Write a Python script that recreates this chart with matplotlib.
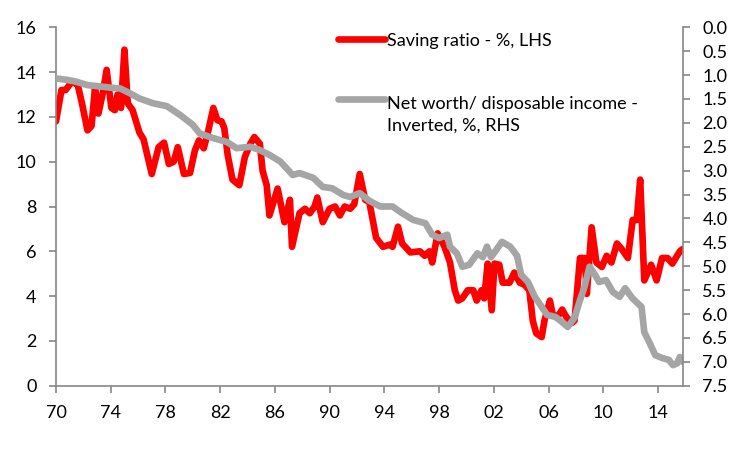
import matplotlib
matplotlib.use("Agg")
import matplotlib.pyplot as plt
import numpy as np
from matplotlib.legend_handler import HandlerLine2D

# Household saving ratio (%, left axis)
saving_years = [1970.0, 1970.4, 1970.7, 1971.2, 1971.6, 1971.9, 1972.3, 1972.6, 1972.85, 1973.1,
                1973.4, 1973.7, 1974.05, 1974.3, 1974.5, 1974.75, 1975.0, 1975.25, 1975.6, 1976.1,
                1976.4, 1977.0, 1977.5, 1977.9, 1978.25, 1978.6, 1978.9, 1979.35, 1979.8, 1980.15,
                1980.45, 1980.8, 1981.1, 1981.5, 1981.8, 1982.1, 1982.3, 1982.55, 1982.9, 1983.4,
                1983.8, 1984.2, 1984.5, 1984.9, 1985.1, 1985.4, 1985.6, 1986.2, 1986.7, 1987.1,
                1987.25, 1987.8, 1988.2, 1988.55, 1988.9, 1989.1, 1989.5, 1990.0, 1990.4, 1990.75,
                1991.1, 1991.5, 1991.8, 1992.2, 1992.6, 1992.9, 1993.4, 1993.9, 1994.4, 1994.6,
                1995.0, 1995.3, 1995.9, 1996.6, 1996.95, 1997.3, 1997.5, 1997.9, 1998.4, 1998.8,
                1999.15, 1999.4, 1999.7, 2000.1, 2000.5, 2000.75, 2001.1, 2001.3, 2001.55, 2001.85,
                2002.05, 2002.4, 2002.65, 2003.15, 2003.5, 2003.9, 2004.25, 2004.6, 2004.85, 2005.1,
                2005.5, 2005.7, 2006.1, 2006.3, 2006.65, 2007.0, 2007.3, 2007.7, 2007.9, 2008.3,
                2008.65, 2008.8, 2009.15, 2009.5, 2009.9, 2010.25, 2010.6, 2011.0, 2011.35, 2011.8,
                2012.15, 2012.45, 2012.7, 2013.0, 2013.5, 2013.9, 2014.3, 2014.7, 2015.05, 2015.6,
                2015.8]
saving_ratio = [11.8, 13.2, 13.2, 13.6, 13.4, 12.6, 11.4, 11.6, 13.3, 12.15,
                13.0, 14.1, 12.4, 12.3, 13.0, 12.4, 15.0, 12.6, 12.3, 11.3,
                11.0, 9.45, 10.65, 10.85, 9.9, 10.0, 10.65, 9.45, 9.5, 10.5,
                10.95, 10.6, 11.3, 12.4, 11.85, 11.8, 11.5, 10.3, 9.2, 8.95,
                10.2, 10.8, 11.1, 10.8, 9.6, 8.95, 7.6, 8.8, 7.3, 8.3,
                6.2, 7.7, 7.9, 7.7, 8.0, 8.4, 7.3, 7.9, 8.0, 7.6,
                8.0, 7.9, 8.1, 9.45, 8.3, 8.2, 6.6, 6.2, 6.3, 6.2,
                7.1, 6.35, 5.95, 6.0, 5.8, 6.0, 5.5, 6.8, 6.2, 5.5,
                4.26, 3.8, 3.9, 4.26, 4.26, 3.8, 4.26, 3.9, 5.45, 3.37,
                5.45, 5.4, 4.6, 4.6, 5.05, 4.6, 4.5, 4.26, 2.9, 2.34,
                2.17, 2.9, 3.8, 3.2, 3.07, 3.4, 3.07, 2.8, 2.9, 5.7,
                5.7, 4.1, 7.07, 5.5, 5.3, 5.8, 5.5, 6.35, 6.1, 5.7,
                7.4, 7.4, 9.2, 4.7, 5.4, 4.7, 5.7, 5.7, 5.45, 6.0,
                6.1]

# Net worth / disposable income (inverted, right axis)
worth_years = [1970.0, 1970.8, 1971.5, 1972.3, 1973.0, 1973.9, 1974.7, 1975.4, 1976.1, 1977.1,
               1978.1, 1979.1, 1980.0, 1980.5, 1981.5, 1982.5, 1983.2, 1984.2, 1984.9, 1985.6,
               1986.4, 1987.3, 1987.8, 1988.8, 1989.5, 1990.2, 1991.0, 1991.5, 1992.2, 1992.9,
               1993.7, 1994.6, 1995.3, 1996.1, 1997.0, 1997.5, 1998.0, 1998.6, 1998.8, 1999.3,
               1999.7, 2000.2, 2000.8, 2001.2, 2001.5, 2001.8, 2002.6, 2003.2, 2003.7, 2004.0,
               2004.5, 2005.0, 2005.5, 2005.9, 2006.5, 2007.0, 2007.4, 2007.9, 2008.3, 2008.6,
               2009.0, 2009.4, 2009.7, 2010.2, 2010.7, 2011.2, 2011.6, 2012.1, 2012.5, 2012.8,
               2013.0, 2013.4, 2013.8, 2014.3, 2014.8, 2015.1, 2015.4, 2015.6, 2015.8]
net_worth = [1.07, 1.10, 1.14, 1.21, 1.23, 1.26, 1.28, 1.38, 1.49, 1.59,
             1.65, 1.84, 2.04, 2.22, 2.32, 2.40, 2.53, 2.50, 2.57, 2.67,
             2.81, 3.09, 3.05, 3.15, 3.34, 3.37, 3.51, 3.55, 3.47, 3.63,
             3.75, 3.75, 3.89, 4.03, 4.10, 4.34, 4.41, 4.34, 4.59, 4.73,
             5.01, 4.97, 4.73, 4.81, 4.59, 4.81, 4.49, 4.59, 4.78, 5.18,
             5.33, 5.64, 5.85, 6.02, 6.06, 6.17, 6.27, 6.08, 5.71, 5.46,
             5.01, 5.18, 5.33, 5.29, 5.54, 5.64, 5.46, 5.66, 5.77, 5.85,
             6.38, 6.61, 6.86, 6.92, 6.96, 7.07, 7.03, 6.90, 7.00]

tick_years = list(range(1970, 2015, 4))
labels = ["Saving ratio - %, LHS", "Net worth/ disposable income -\nInverted, %, RHS"]

plt.rcParams['font.family'] = ['Lato', 'DejaVu Sans']
axis_grey = '#868686'


class TopLineHandler(HandlerLine2D):
    # put the handle next to the first line of a two-line label
    def create_artists(self, legend, orig_handle, xdescent, ydescent, width, height, fontsize, trans):
        arts = super().create_artists(legend, orig_handle, xdescent, ydescent, width, height, fontsize, trans)
        for a in arts:
            a.set_ydata(np.asarray(a.get_ydata()) + 0.85 * fontsize)
        return arts


fig = plt.figure(figsize=(7.51, 4.5), dpi=100)
ax = fig.add_axes([56 / 751, 1 - 385.7 / 450, 627 / 751, 358.4 / 450])
ax2 = ax.twinx()

red_line, = ax.plot(saving_years, saving_ratio, color='#FF0000', lw=4.8,
                    solid_joinstyle='round', solid_capstyle='round')
grey_line, = ax2.plot(worth_years, net_worth, color='#A5A5A5', lw=4.8,
                      solid_joinstyle='round', solid_capstyle='round')

ax.set_xlim(1970, 2015.83)
ax.set_ylim(0, 16)
ax.set_yticks(range(0, 17, 2))
ax2.set_ylim(7.5, 0)
ax2.set_yticks(np.arange(0, 7.51, 0.5))
ax2.set_yticklabels([f"{v:.1f}" for v in np.arange(0, 7.51, 0.5)])
ax.set_xticks(tick_years)
ax.set_xticklabels([f"{y % 100:02d}" for y in tick_years])

for a in (ax, ax2):
    a.spines['top'].set_visible(False)
    for s in ('left', 'right', 'bottom'):
        a.spines[s].set_color(axis_grey)
        a.spines[s].set_linewidth(1.2)
    a.tick_params(colors=axis_grey, labelcolor='black', labelsize=13, length=5, width=1.2, pad=9)
ax.spines['right'].set_visible(False)
ax2.spines['left'].set_visible(False)
ax2.spines['bottom'].set_visible(False)

leg = ax2.legend([red_line, grey_line], labels, loc='upper left', bbox_to_anchor=(0.45, 0.985),
                 frameon=False, fontsize=13, handlelength=2.6, handletextpad=0.12,
                 labelspacing=2.6, borderpad=0, borderaxespad=0,
                 handler_map={grey_line: TopLineHandler()})
leg.get_texts()[1].set_linespacing(1.45)

fig.savefig('out.png', dpi=100)
